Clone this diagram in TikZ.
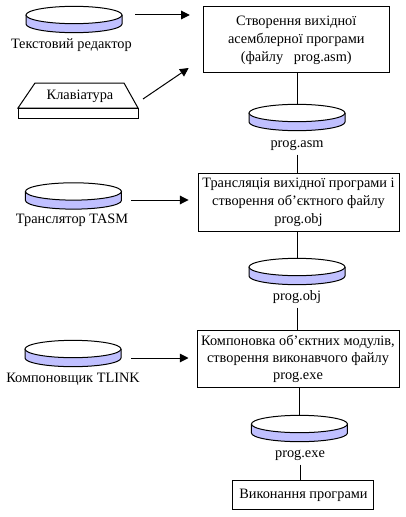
\documentclass[tikz,border=0pt]{standalone}
\usepackage{fontspec}
\setmainfont{Liberation Serif}
\usetikzlibrary{arrows.meta,calc,positioning}
\definecolor{diskfill}{RGB}{192,192,255}
\tikzset{
  disknode/.style={minimum width=72pt,minimum height=13pt,inner sep=0pt},
  procbox/.style={draw,align=center,inner sep=0pt,font=\fontsize{10.75}{13.5}\selectfont},
  lbl/.style={inner xsep=0pt,inner ysep=2pt,text height=8pt,text depth=3pt,font=\fontsize{10.75}{13}\selectfont},
  flow/.style={-{Stealth[length=6.5pt,width=6.5pt,inset=0pt]}},
}
% disk: name, centre of its top face
\newcommand{\disk}[2]{
  \node[disknode] (#1) at (#2) {};
  \begin{scope}[shift={(#2)}]
    \fill[diskfill] (-36,-6.75) arc (180:360:36 and 6.5) -- (36,0) arc (0:-180:36 and 6.5) -- cycle;
    \draw (-36,0) -- (-36,-6.75) arc (180:360:36 and 6.5) -- (36,0);
    \draw[fill=white] (0,0) ellipse (36 and 6.5);
  \end{scope}
}
\begin{document}
\begin{tikzpicture}[x=1pt,y=1pt,line width=0.75pt]
\useasboundingbox (0,0) rectangle (304.5,-387.75);
% left column
\disk{edit}{55.5,-11.25}
\node[lbl] (editl) at (53.5,-34) {Текстовий редактор};
\node[lbl] (kbdl) at (60,-72) {Клавіатура};
\draw (13.5,-81) -- (26.25,-62.25) -- (93,-62.25) -- (103.5,-81) -- cycle;
\draw (13.5,-81) rectangle (103.5,-88.5);
\disk{tasm}{55.1,-143.6}
\node[lbl] (tasml) at (54,-165) {Транслятор TASM};
\disk{tlink}{54.75,-261.75}
\node[lbl] (tlinkl) at (54.75,-284.25) {Компоновщик TLINK};
% right column
\node[procbox,minimum width=139.5pt,minimum height=49.5pt] (src) at (222.2,-30) {Створення вихідної\\асемблерної програми\\(файлу \ \ prog.asm)};
\disk{asm}{222.75,-84.75}
\node[lbl] (asml) at (222.75,-108) {prog.asm};
\node[procbox,minimum width=150.75pt,minimum height=43.5pt] (trans) at (223.9,-151.5) {Трансляція вихідної програми і\\створення об’єктного файлу\\prog.obj};
\disk{obj}{222.75,-200.25}
\node[lbl] (objl) at (222.75,-222.75) {prog.obj};
\node[procbox,minimum width=151.5pt,minimum height=42.75pt,font=\fontsize{10.75}{12.75}\selectfont] (link) at (223.5,-268.9) {Компоновка об’єктних модулів,\\створення виконавчого файлу\\prog.exe};
\disk{exe}{224.6,-318}
\node[lbl] (exel) at (225,-340.5) {prog.exe};
\node[procbox,minimum width=105.75pt,minimum height=21.75pt] (run) at (227.6,-371.6) {Виконання програми};
% free ends of the arrows
\coordinate (editout) at (101.25,-11.25);
\coordinate (kbdout) at (107.25,-74.25);
\coordinate (kbdin) at (141.5,-51);
\coordinate (tasmout) at (98.25,-150);
\coordinate (tlinkout) at (98.25,-268.5);
\draw[flow,shorten >=9.75pt] (editout) -- (editout -| src.west);
\draw[flow] (kbdout) -- (kbdin);
\draw[flow,shorten >=6.75pt] (tasmout) -- (tasmout -| trans.west);
\draw[flow,shorten >=6pt] (tlinkout) -- (tlinkout -| link.west);
\draw (src.south -| asm.north) -- (asm.north);
\draw (asml.south) -- (asml.south |- trans.north);
\draw (trans.south -| obj.north) -- (obj.north);
\draw (objl.south) -- (objl.south |- link.north);
\draw (link.south -| exe.north) -- (exe.north);
\draw (exel.south) -- (exel.south |- run.north);
\end{tikzpicture}
\end{document}
